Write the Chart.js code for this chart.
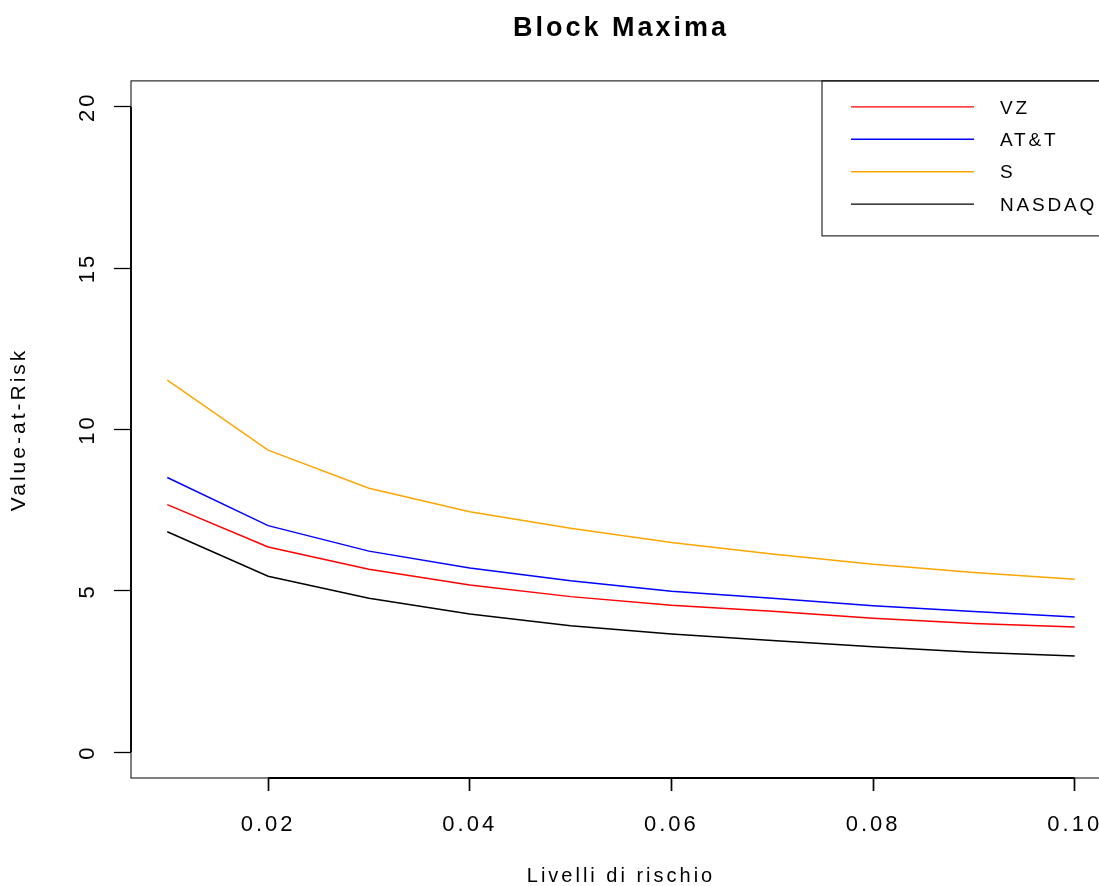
<!DOCTYPE html>
<html>
<head>
<meta charset="utf-8">
<script src="https://cdn.jsdelivr.net/npm/chart.js@4.4.1/dist/chart.umd.min.js"></script>
<style>
  html, body { margin: 0; padding: 0; background: #fff; }
  #wrap { width: 1099px; height: 886px; overflow: hidden; position: relative; }
  #chartVaR { display: block; }
</style>
</head>
<body>
<div id="wrap"><canvas id="chartVaR" width="1242" height="886"></canvas></div>
<script>
const livelli = [0.01, 0.02, 0.03, 0.04, 0.05, 0.06, 0.07, 0.08, 0.09, 0.10];
const varVZ     = [7.67, 6.36, 5.67, 5.18, 4.82, 4.55, 4.37, 4.15, 3.99, 3.88];
const varATT    = [8.51, 7.02, 6.23, 5.71, 5.31, 4.99, 4.77, 4.54, 4.36, 4.19];
const varS      = [11.53, 9.36, 8.18, 7.45, 6.94, 6.50, 6.14, 5.82, 5.57, 5.36];
const varNASDAQ = [6.83, 5.45, 4.77, 4.28, 3.92, 3.66, 3.46, 3.27, 3.10, 2.98];
const xTicks = [0.02, 0.04, 0.06, 0.08, 0.10];
const yTicks = [0, 5, 10, 15, 20];

const FONT = "'Liberation Sans', Arial, Helvetica, sans-serif";

function punti(valori) {
  return livelli.map((x, i) => ({ x: x, y: valori[i] }));
}

function serie(label, valori, colore) {
  return {
    label: label,
    data: punti(valori),
    borderColor: colore,
    backgroundColor: colore,
    borderWidth: 1.5,
    pointRadius: 0,
    tension: 0,
    fill: false
  };
}

// spaziatura larga dei caratteri come nel grafico di R
const spaziatura = {
  id: 'spaziatura',
  beforeUpdate(chart) { chart.ctx.letterSpacing = '3px'; },
  beforeDraw(chart) { chart.ctx.letterSpacing = '3px'; }
};

// riquadro del grafico, assi da primo a ultimo tick, legenda in alto a destra
const cornice = {
  id: 'cornice',
  afterDraw(chart) {
    const ctx = chart.ctx;
    const a = chart.chartArea;
    const sx = chart.scales.x, sy = chart.scales.y;
    ctx.save();
    ctx.strokeStyle = '#000';
    ctx.lineWidth = 1;
    ctx.strokeRect(a.left, a.top, a.right - a.left, a.bottom - a.top);

    ctx.lineWidth = 1.8;
    ctx.beginPath();
    ctx.moveTo(a.left, sy.getPixelForValue(yTicks[0]));
    ctx.lineTo(a.left, sy.getPixelForValue(yTicks[yTicks.length - 1]));
    ctx.moveTo(sx.getPixelForValue(xTicks[0]), a.bottom);
    ctx.lineTo(sx.getPixelForValue(xTicks[xTicks.length - 1]), a.bottom);
    ctx.stroke();

    // legenda
    const lw = 289, lh = 155;
    const x0 = a.right - lw, y0 = a.top;
    ctx.lineWidth = 1;
    ctx.strokeRect(x0, y0, lw, lh);
    ctx.font = '19px ' + FONT;
    ctx.textBaseline = 'middle';
    ctx.textAlign = 'left';
    ctx.letterSpacing = '2.8px';
    chart.data.datasets.forEach((ds, i) => {
      const y = y0 + 26 + i * 32.4;
      ctx.strokeStyle = ds.borderColor;
      ctx.lineWidth = 1.4;
      ctx.beginPath();
      ctx.moveTo(x0 + 29, y);
      ctx.lineTo(x0 + 152, y);
      ctx.stroke();
      ctx.fillStyle = '#000';
      ctx.fillText(ds.label, x0 + 178, y + 1.5);
    });
    ctx.restore();
  }
};

new Chart(document.getElementById('chartVaR'), {
  type: 'line',
  data: {
    datasets: [
      serie('VZ', varVZ, '#ff0000'),
      serie('AT&T', varATT, '#0000ff'),
      serie('S', varS, '#ffa500'),
      serie('NASDAQ', varNASDAQ, '#000000')
    ]
  },
  options: {
    responsive: false,
    animation: false,
    devicePixelRatio: 1,
    layout: { padding: { left: 0, right: 131, top: 0, bottom: 0 } },
    plugins: {
      legend: { display: false },
      tooltip: { enabled: false },
      title: {
        display: true,
        fullSize: false,
        text: 'Block Maxima',
        color: '#000',
        font: { family: FONT, size: 27, weight: 'bold' },
        padding: { top: 12, bottom: 36.5 }
      }
    },
    scales: {
      x: {
        type: 'linear',
        min: 0.0064,
        max: 0.1036,
        afterBuildTicks(scale) { scale.ticks = xTicks.map(v => ({ value: v })); },
        afterFit(scale) { scale.height = 108; },
        ticks: {
          color: '#000',
          font: { family: FONT, size: 22 },
          padding: 21,
          maxRotation: 0,
          callback: v => v.toFixed(2)
        },
        grid: { drawOnChartArea: false, tickLength: 13, tickColor: '#000', tickWidth: 1.7 },
        border: { display: false },
        title: {
          display: true,
          text: 'Livelli di rischio',
          color: '#000',
          font: { family: FONT, size: 20 },
          padding: { top: 0, bottom: -2 }
        }
      },
      y: {
        min: -0.8,
        max: 20.8,
        afterBuildTicks(scale) { scale.ticks = yTicks.map(v => ({ value: v })); },
        afterFit(scale) { scale.width = 131; },
        ticks: {
          color: '#000',
          font: { family: FONT, size: 22 },
          minRotation: 90,
          maxRotation: 90,
          crossAlign: 'center',
          padding: 11
        },
        grid: { drawOnChartArea: false, tickLength: 17, tickColor: '#000', tickWidth: 1.3 },
        border: { display: false },
        title: {
          display: true,
          text: 'Value-at-Risk',
          color: '#000',
          font: { family: FONT, size: 21 },
          padding: { top: 7, bottom: 0 }
        }
      }
    }
  },
  plugins: [spaziatura, cornice]
});
</script>
</body>
</html>
